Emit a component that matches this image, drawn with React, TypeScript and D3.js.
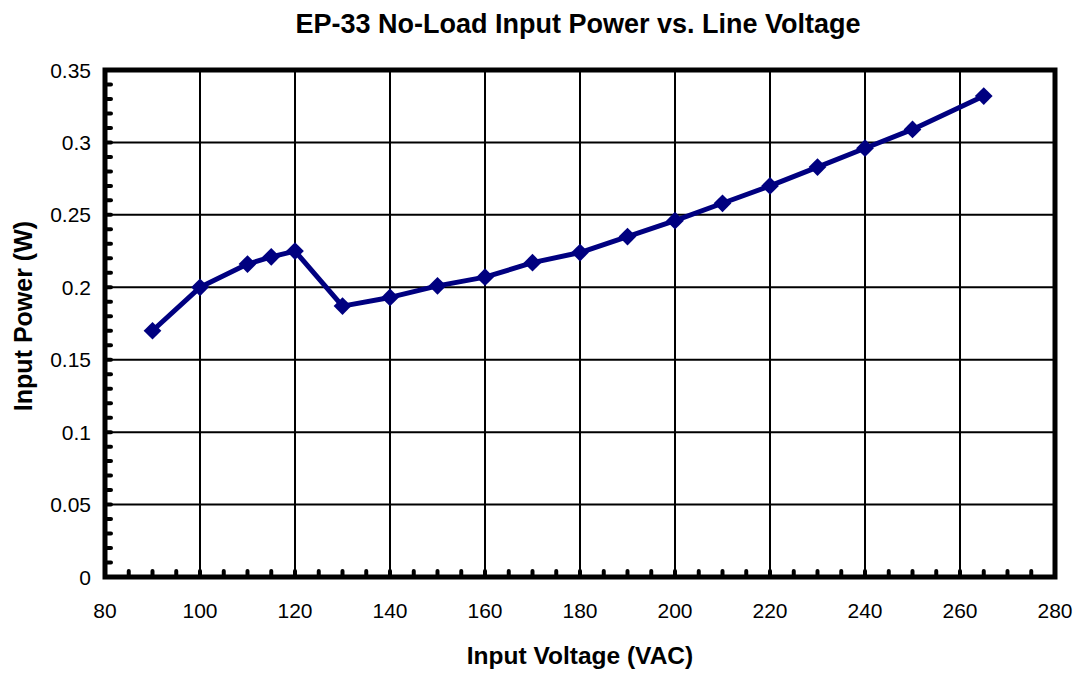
import React from "react";
import * as d3 from "d3";

const voltages = [90, 100, 110, 115, 120, 130, 140, 150, 160, 170, 180, 190, 200, 210, 220, 230, 240, 250, 265];
const powers = [0.170, 0.200, 0.216, 0.221, 0.225, 0.187, 0.193, 0.201, 0.207, 0.217, 0.224, 0.235, 0.246, 0.258, 0.270, 0.283, 0.296, 0.309, 0.332];
const xTicks = [80, 100, 120, 140, 160, 180, 200, 220, 240, 260, 280];
const yTicks = [0, 0.05, 0.1, 0.15, 0.2, 0.25, 0.3, 0.35];
const yTickLabels = ["0", "0.05", "0.1", "0.15", "0.2", "0.25", "0.3", "0.35"];

const W = 1076, H = 673;
const L = 105, R = 1055, T = 70, B = 577;
const NAVY = "#000080";
const FONT = "'Liberation Sans', Arial, sans-serif";

export default function App() {
  const x = d3.scaleLinear().domain([80, 280]).range([L, R]);
  const y = d3.scaleLinear().domain([0, 0.35]).range([B, T]);
  const line = d3.line<number>().x((_, i) => x(voltages[i])).y((d) => y(d));
  const xMinor = d3.range(85, 280, 5);
  const yMinor = d3.range(1, 35).map((v) => v / 100);
  const diamond = d3.symbol().type(d3.symbolDiamond2).size(200)();

  return (
    <svg width={W} height={H} style={{ position: "absolute", left: 0, top: 0, background: "#fff" }} fontFamily={FONT}>
      <text x={578} y={33} textAnchor="middle" fontSize={27} fontWeight="bold">EP-33 No-Load Input Power vs. Line Voltage</text>
      {/* grid */}
      {xTicks.slice(1, -1).map((t) => (
        <line key={"gx" + t} x1={x(t)} x2={x(t)} y1={T} y2={B} stroke="#000" strokeWidth={2} />
      ))}
      {yTicks.slice(1, -1).map((t) => (
        <line key={"gy" + t} x1={L} x2={R} y1={y(t)} y2={y(t)} stroke="#000" strokeWidth={2} />
      ))}
      {/* minor ticks */}
      {xMinor.map((t) => (
        <line key={"mx" + t} x1={x(t)} x2={x(t)} y1={B} y2={B - 6} stroke="#000" strokeWidth={4} strokeLinecap="round" />
      ))}
      {yMinor.map((t) => (
        <line key={"my" + t} x1={L} x2={L + 6} y1={y(t)} y2={y(t)} stroke="#000" strokeWidth={4} strokeLinecap="round" />
      ))}
      {/* frame */}
      <rect x={L} y={T} width={R - L} height={B - T} fill="none" stroke="#000" strokeWidth={5} />
      {/* tick labels */}
      {xTicks.map((t) => (
        <text key={"tx" + t} x={x(t)} y={618} textAnchor="middle" fontSize={21}>{t}</text>
      ))}
      {yTicks.map((t, i) => (
        <text key={"ty" + t} x={91} y={y(t) + 7.5} textAnchor="end" fontSize={21}>{yTickLabels[i]}</text>
      ))}
      {/* axis titles */}
      <text x={580} y={664} textAnchor="middle" fontSize={24.5} fontWeight="bold">Input Voltage (VAC)</text>
      <text transform={`translate(32,316) rotate(-90)`} textAnchor="middle" fontSize={25} fontWeight="bold">Input Power (W)</text>
      {/* series */}
      <path d={line(powers) || ""} fill="none" stroke={NAVY} strokeWidth={5} strokeLinejoin="round" />
      {powers.map((p, i) => (
        <path key={"pt" + i} d={diamond || ""} transform={`translate(${x(voltages[i])},${y(p)})`} fill={NAVY} />
      ))}
    </svg>
  );
}
